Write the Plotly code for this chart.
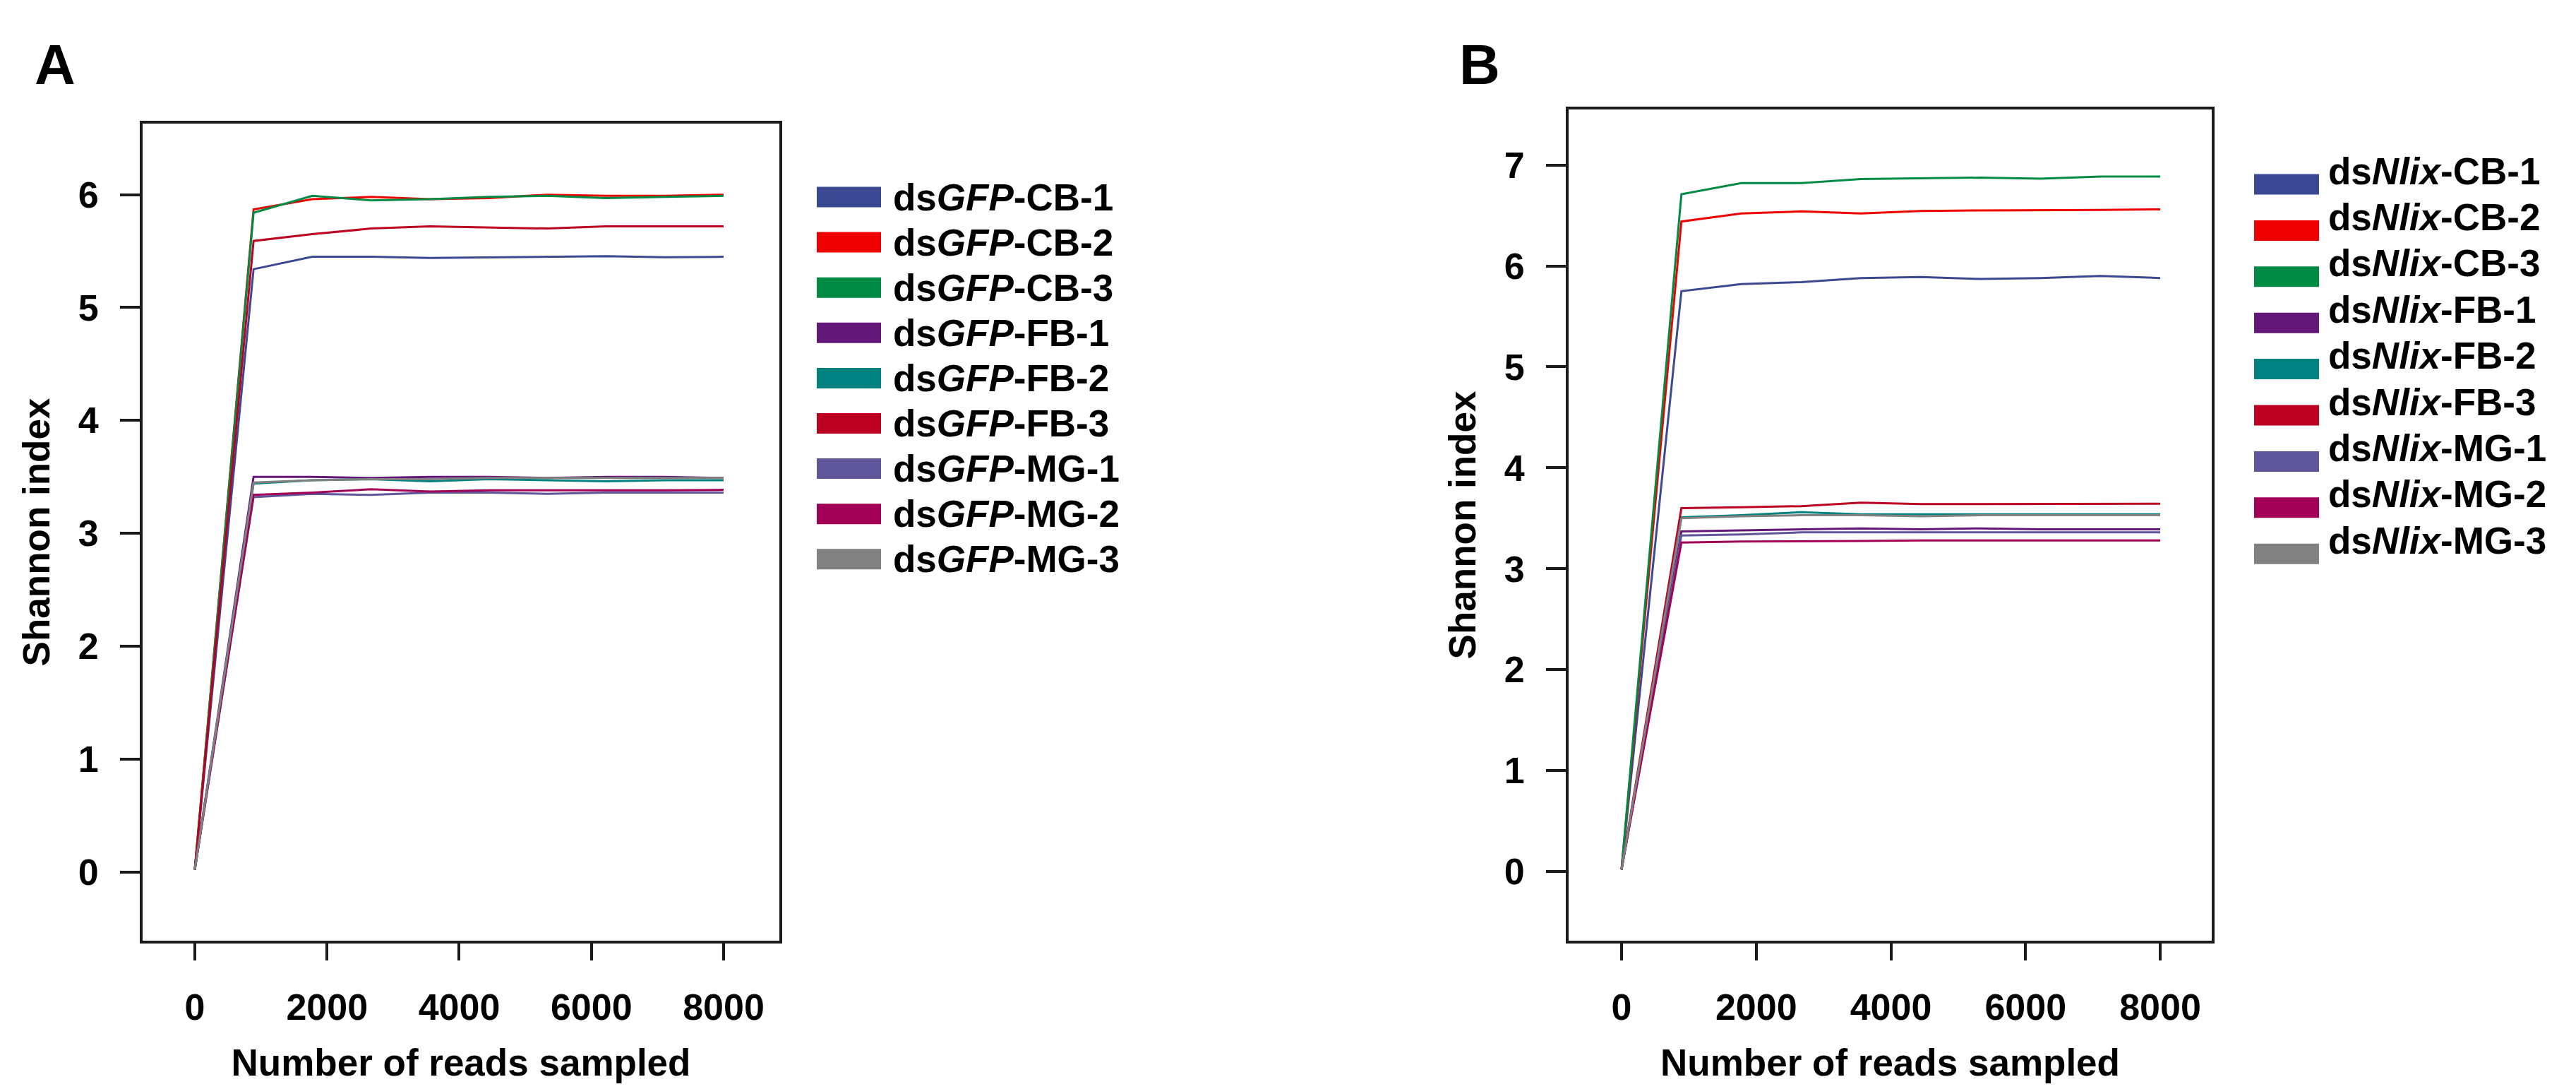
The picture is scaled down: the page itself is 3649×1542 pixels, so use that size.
import plotly.graph_objects as go

W, H = 3649, 1542

reads = [0, 889, 1778, 2667, 3556, 4444, 5333, 6222, 7111, 8000]
sample_ids = ["CB-1", "CB-2", "CB-3", "FB-1", "FB-2", "FB-3", "MG-1", "MG-2", "MG-3"]
colors = ["#3B4992", "#EE0000", "#008B45", "#631879", "#008280",
          "#BB0021", "#5F559B", "#A20056", "#808180"]

a_cb1 = [0.02, 5.34, 5.45, 5.45, 5.44, 5.445, 5.45, 5.455, 5.445, 5.45]
a_cb2 = [0.02, 5.87, 5.96, 5.98, 5.96, 5.97, 6.00, 5.99, 5.99, 6.00]
a_cb3 = [0.02, 5.84, 5.99, 5.95, 5.96, 5.98, 5.99, 5.97, 5.98, 5.99]
a_fb1 = [0.02, 3.50, 3.50, 3.49, 3.50, 3.50, 3.49, 3.50, 3.50, 3.49]
a_fb2 = [0.02, 3.44, 3.47, 3.48, 3.46, 3.48, 3.47, 3.46, 3.47, 3.47]
a_fb3 = [0.02, 5.59, 5.65, 5.70, 5.72, 5.71, 5.70, 5.72, 5.72, 5.72]
a_mg1 = [0.02, 3.32, 3.35, 3.34, 3.36, 3.36, 3.35, 3.36, 3.36, 3.36]
a_mg2 = [0.02, 3.34, 3.36, 3.39, 3.37, 3.38, 3.38, 3.38, 3.38, 3.385]
a_mg3 = [0.02, 3.45, 3.47, 3.48, 3.48, 3.49, 3.49, 3.49, 3.49, 3.49]

b_cb1 = [0.02, 5.75, 5.82, 5.84, 5.88, 5.89, 5.87, 5.88, 5.90, 5.88]
b_cb2 = [0.02, 6.44, 6.52, 6.54, 6.52, 6.545, 6.55, 6.55, 6.555, 6.56]
b_cb3 = [0.02, 6.71, 6.82, 6.82, 6.86, 6.865, 6.875, 6.865, 6.885, 6.885]
b_fb1 = [0.02, 3.37, 3.38, 3.39, 3.40, 3.39, 3.40, 3.39, 3.39, 3.39]
b_fb2 = [0.02, 3.51, 3.53, 3.56, 3.54, 3.54, 3.54, 3.54, 3.54, 3.54]
b_fb3 = [0.02, 3.60, 3.61, 3.62, 3.655, 3.64, 3.64, 3.64, 3.64, 3.645]
b_mg1 = [0.02, 3.33, 3.34, 3.36, 3.36, 3.36, 3.36, 3.36, 3.36, 3.36]
b_mg2 = [0.02, 3.26, 3.27, 3.27, 3.275, 3.28, 3.28, 3.28, 3.28, 3.28]
b_mg3 = [0.02, 3.50, 3.52, 3.53, 3.53, 3.52, 3.53, 3.53, 3.53, 3.53]

series_a = [a_cb1, a_cb2, a_cb3, a_fb1, a_fb2, a_fb3, a_mg1, a_mg2, a_mg3]
series_b = [b_cb1, b_cb2, b_cb3, b_fb1, b_fb2, b_fb3, b_mg1, b_mg2, b_mg3]

x_ticks = [0, 2000, 4000, 6000, 8000]
ya_ticks = [0, 1, 2, 3, 4, 5, 6]
yb_ticks = [0, 1, 2, 3, 4, 5, 6, 7]

FONT = "Liberation Sans, Arial, sans-serif"
INK = "#1a1a1a"

fig = go.Figure()
for vals, sid, col in zip(series_a, sample_ids, colors):
    fig.add_trace(go.Scatter(x=reads, y=vals, mode="lines", name="dsGFP-" + sid,
                             line=dict(color=col, width=3), xaxis="x", yaxis="y",
                             showlegend=False))
for vals, sid, col in zip(series_b, sample_ids, colors):
    fig.add_trace(go.Scatter(x=reads, y=vals, mode="lines", name="dsNlix-" + sid,
                             line=dict(color=col, width=3), xaxis="x2", yaxis="y2",
                             showlegend=False))

def px(x):
    return x / W

def py(y):
    return 1 - y / H

axis_common = dict(showline=True, linecolor=INK, linewidth=4, mirror=True,
                   ticks="outside", tickwidth=4, tickcolor=INK,
                   showgrid=False, zeroline=False,
                   tickfont=dict(family=FONT, size=52, color="black", weight="bold"))
title_font = dict(family=FONT, size=53, color="black", weight="bold")

fig.update_layout(
    width=W, height=H, margin=dict(l=0, r=0, t=0, b=0),
    paper_bgcolor="white", plot_bgcolor="white",
    xaxis=dict(domain=[px(194), px(1096)], range=[-790, 8844], anchor="y",
               tickvals=x_ticks, ticklen=24, ticklabelstandoff=22,
               title=dict(text="Number of reads sampled", font=title_font, standoff=32),
               **axis_common),
    yaxis=dict(domain=[py(1324), py(167)], range=[-0.61, 6.63], anchor="x",
               tickvals=ya_ticks, ticklen=28, ticklabelstandoff=20,
               title=dict(text="Shannon index", font=title_font, standoff=24),
               **axis_common),
    xaxis2=dict(domain=[px(2214), px(3125)], range=[-786, 8765], anchor="y2",
                tickvals=x_ticks, ticklen=24, ticklabelstandoff=22,
                title=dict(text="Number of reads sampled", font=title_font, standoff=32),
                **axis_common),
    yaxis2=dict(domain=[py(1324), py(147)], range=[-0.685, 7.55], anchor="x2",
                tickvals=yb_ticks, ticklen=28, ticklabelstandoff=20,
                title=dict(text="Shannon index", font=title_font, standoff=24),
                **axis_common),
)

annotations = [
    dict(text="A", x=px(70), y=py(83), xref="paper", yref="paper",
         xanchor="center", yanchor="middle", showarrow=False,
         font=dict(family=FONT, size=80, color="black", weight="bold")),
    dict(text="B", x=px(2088), y=py(83), xref="paper", yref="paper",
         xanchor="center", yanchor="middle", showarrow=False,
         font=dict(family=FONT, size=80, color="black", weight="bold")),
]
shapes = []
leg_font = dict(family=FONT, size=53, color="black", weight="bold")

# Legend A
for i, (sid, col) in enumerate(zip(sample_ids, colors)):
    cy = 271 + 64.1 * i
    shapes.append(dict(type="rect", xref="paper", yref="paper",
                       x0=px(1149), x1=px(1240), y0=py(cy + 14.5), y1=py(cy - 14.5),
                       fillcolor=col, line=dict(width=0)))
    annotations.append(dict(text="ds<i>GFP</i>-" + sid, x=px(1255), y=py(cy),
                            xref="paper", yref="paper", xanchor="left", yanchor="middle",
                            showarrow=False, font=leg_font))

# Legend B
for i, (sid, col) in enumerate(zip(sample_ids, colors)):
    cy = 253 + 65.4 * i
    shapes.append(dict(type="rect", xref="paper", yref="paper",
                       x0=px(3185), x1=px(3277), y0=py(cy + 14.5), y1=py(cy - 14.5),
                       fillcolor=col, line=dict(width=0)))
    annotations.append(dict(text="ds<i>Nlix</i>-" + sid, x=px(3288), y=py(cy - 19),
                            xref="paper", yref="paper", xanchor="left", yanchor="middle",
                            showarrow=False, font=leg_font))

fig.update_layout(annotations=annotations, shapes=shapes)
fig.write_html("out.html")
